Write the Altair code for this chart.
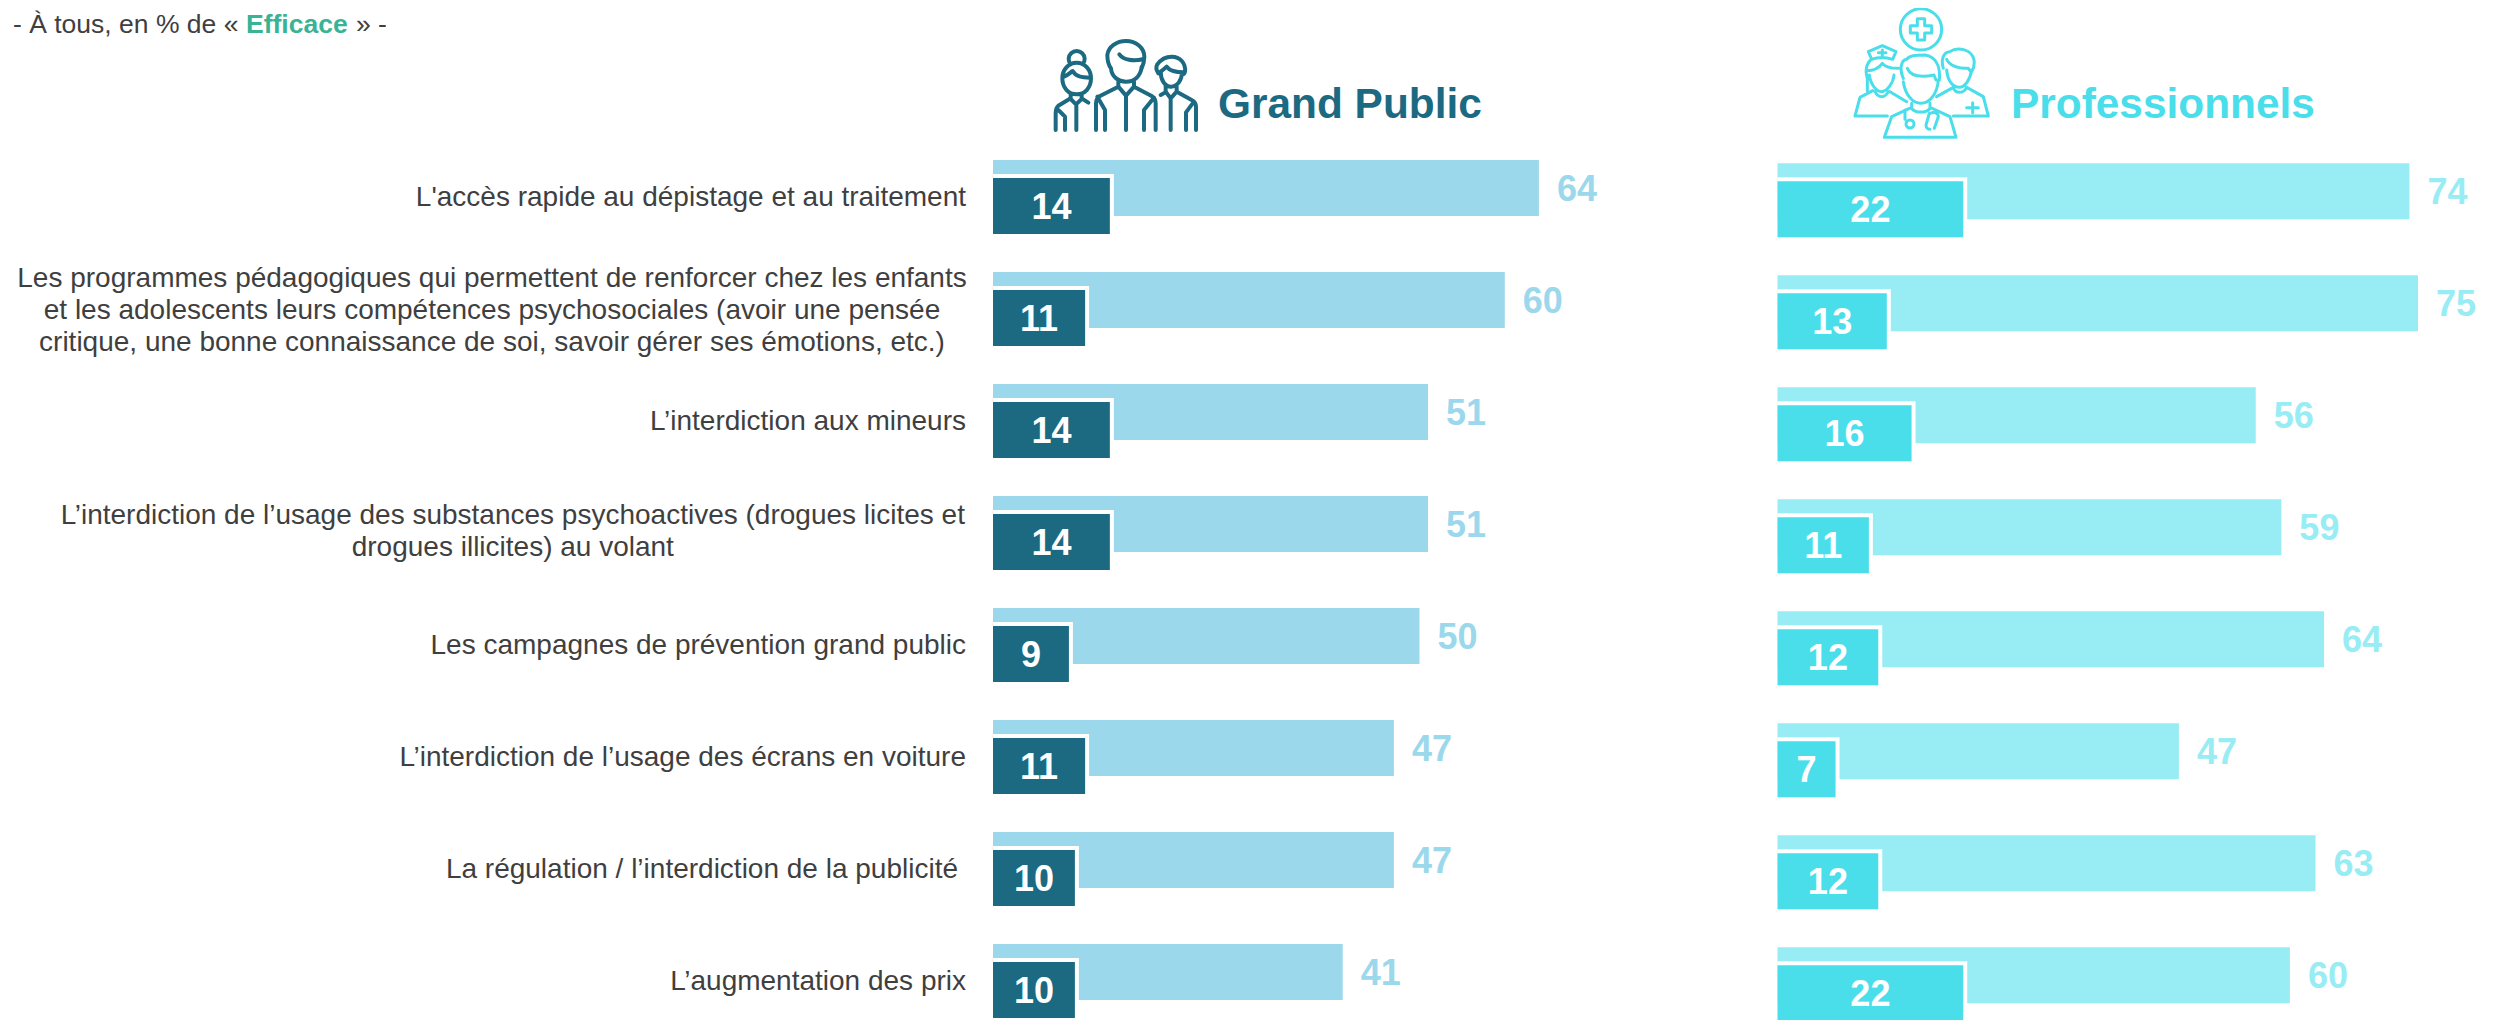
import altair as alt
import pandas as pd

FONT = "Liberation Sans"
TEXT = "#3F3F3F"

categories = [
    "L'accès rapide au dépistage et au traitement",
    "Les programmes pédagogiques qui permettent de renforcer chez les enfants\net les adolescents leurs compétences psychosociales (avoir une pensée\ncritique, une bonne connaissance de soi, savoir gérer ses émotions, etc.)",
    "L’interdiction aux mineurs",
    "L’interdiction de l’usage des substances psychoactives (drogues licites et\ndrogues illicites) au volant",
    "Les campagnes de prévention grand public",
    "L’interdiction de l’usage des écrans en voiture",
    "La régulation / l’interdiction de la publicité",
    "L’augmentation des prix",
]
gp_total = [64, 60, 51, 51, 50, 47, 47, 41]
gp_top = [13.7, 10.8, 13.7, 13.7, 8.9, 10.8, 9.6, 9.6]
pro_total = [74, 75, 56, 59, 64, 47, 63, 60]
pro_top = [21.75, 12.8, 15.7, 10.7, 11.8, 6.8, 11.8, 21.75]

GP_ICON = (
    "M62,88 A24,24 0 1 1 98,88 "
    "M80,83 C55,83 37,105 37,130 C37,158 55,178 80,178 C105,178 123,158 123,130 C123,105 105,83 80,83 Z "
    "M42,125 C55,120 62,112 68,108 C78,125 95,128 120,128 "
    "M62,175 V192 L78,208 L95,192 V178 M62,190 L25,212 C18,218 17,225 17,235 V285 M95,190 L115,203 "
    "M25,225 L45,245 V285 M79,208 V285 "
    "M183,100 C172,85 172,70 172,60 C175,35 200,18 228,18 C258,18 283,38 283,65 C283,78 280,90 275,100 "
    "M183,100 C185,125 205,140 228,140 C252,140 272,125 275,95 M208,58 C220,75 250,80 280,72 "
    "M205,140 V155 L228,182 L252,155 V140 "
    "M205,155 L150,183 C142,188 138,195 138,205 V285 M252,155 L305,183 C313,188 317,195 317,205 V285 "
    "M142,185 L165,225 V285 M312,188 L282,225 V285 M228,182 V285 "
    "M325,115 C318,105 318,95 322,88 C335,70 350,65 365,65 C390,65 408,85 405,110 C404,115 402,118 398,118 "
    "M325,115 C335,108 345,100 350,95 C360,110 380,112 402,112 "
    "M332,110 C332,135 345,155 363,155 C382,155 396,135 396,112 "
    "M347,152 V170 L362,190 L380,170 V155 M380,170 L425,195 C435,200 438,208 438,215 V285 "
    "M347,172 L332,180 M432,200 L408,232 V285 M362,190 V285"
)
PRO_ICON = (
    "M151,88 A62,62 0 1 1 275,88 A62,62 0 1 1 151,88 Z "
    "M202,56 H224 V77 H245 V99 H224 V120 H202 V99 H181 V77 H202 Z "
    "M55,155 L97,137 L138,155 L128,178 C105,170 85,170 65,178 Z M97,150 V168 M85,158 H108 "
    "M65,178 C48,190 45,215 52,235 L52,272 M58,225 C62,255 80,275 95,275 C110,275 130,250 132,225 "
    "M50,212 C75,212 90,200 97,190 C105,200 120,205 145,205 "
    "M68,272 L30,292 L15,348 H112 M75,275 C85,295 105,295 115,275 M120,275 L170,305 "
    "M160,235 C148,210 152,180 170,178 C180,165 200,165 225,165 C255,170 272,195 268,240 "
    "M160,245 C165,280 185,310 213,310 C240,310 262,280 265,240 M172,205 C180,225 200,235 252,225 L258,240 "
    "M185,310 V325 C195,340 230,340 240,325 V310 M185,322 L125,350 L103,412 H318 L300,350 L240,322 "
    "M165,330 V358 M192,372 A12,12 0 1 1 168,372 A12,12 0 1 1 192,372 Z "
    "M240,340 C252,335 265,338 265,350 L253,385 M238,340 L228,375 C228,385 235,388 240,388 "
    "M280,205 C272,180 280,155 300,155 C320,140 365,145 372,180 C375,200 368,210 365,215 "
    "M290,210 C293,245 310,262 328,262 C345,262 360,240 365,210 M290,178 C298,195 320,205 355,205 L362,215 "
    "M310,262 C315,282 340,282 350,262 L400,290 L415,348 H310 M310,262 L260,290 "
    "M368,308 V338 M350,323 H385"
)


def panel(total, top, light, dark, origin, per_unit, y_start, title, title_x, icon, icon_xy, icon_width):
    df = pd.DataFrame({"cat": categories, "total": total, "top": top, "base": [0] * len(categories)})
    xs = alt.Scale(domain=[-origin / per_unit, (2485 - origin) / per_unit])
    ys = alt.Scale(domain=categories, range=[y_start, y_start + 896], paddingInner=0, paddingOuter=0)
    X = lambda f: alt.X(f"{f}:Q", scale=xs, axis=None)
    Y = alt.Y("cat:N", scale=ys, axis=None, sort=None)
    base = alt.Chart(df)
    return alt.layer(
        base.mark_bar(size=56, color=light).encode(x=X("base"), x2="total:Q", y=Y),
        base.mark_bar(size=56, color="white", yOffset=14, x2Offset=4).encode(x=X("base"), x2="top:Q", y=Y),
        base.mark_bar(size=56, color=dark, yOffset=18).encode(x=X("base"), x2="top:Q", y=Y),
        base.mark_text(font=FONT, fontWeight="bold", fontSize=36, color=light, align="left", dx=18, dy=2).encode(
            x=X("total"), y=Y, text=alt.Text("total:Q", format=".0f")),
        base.transform_calculate(mid="datum.top / 2").mark_text(
            font=FONT, fontWeight="bold", fontSize=36, color="white", dy=20).encode(
            x=X("mid"), y=Y, text=alt.Text("top:Q", format=".0f")),
        alt.Chart(pd.DataFrame({"t": [title]})).mark_text(
            font=FONT, fontWeight="bold", fontSize=42.4, color=dark, align="left", baseline="alphabetic").encode(
            x=alt.value(title_x), y=alt.value(110), text="t:N"),
        alt.Chart(pd.DataFrame({"k": [0]})).mark_point(
            shape=icon, size=4 / 9, filled=False, opacity=1, stroke=dark, strokeWidth=icon_width,
            strokeCap="round", strokeJoin="round").encode(
            x=alt.value(icon_xy[0]), y=alt.value(icon_xy[1])),
    )


def row_labels():
    ys = alt.Scale(domain=categories, range=[124, 1020], paddingInner=0, paddingOuter=0)
    Y = alt.Y("cat:N", scale=ys, axis=None, sort=None)
    indented = categories[6]
    single = [c for c in categories if "\n" not in c and c != indented]
    layers = [
        alt.Chart(pd.DataFrame({"cat": single})).mark_text(
            font=FONT, fontSize=28, color=TEXT, align="right", dy=10).encode(
            x=alt.value(958), y=Y, text="cat:N"),
        alt.Chart(pd.DataFrame({"cat": [indented]})).mark_text(
            font=FONT, fontSize=28, color=TEXT, align="right", dy=10).encode(
            x=alt.value(950), y=Y, text="cat:N"),
    ]
    for idx, cx, dy in [(1, 484, -21), (3, 504.8, -8)]:
        layers.append(
            alt.Chart(pd.DataFrame({"cat": [categories[idx]]})).mark_text(
                font=FONT, fontSize=28, color=TEXT, align="center", dy=dy, lineBreak="\n", lineHeight=32).encode(
                x=alt.value(cx), y=Y, text="cat:N"))
    return alt.layer(*layers)


intro = [("- À tous, en % de «", 5, TEXT, "normal"), ("Efficace", 238, "#38B396", "bold"), ("» -", 348, TEXT, "normal")]
intro_layers = [
    alt.Chart(pd.DataFrame({"t": [t]})).mark_text(
        font=FONT, fontSize=26.5, fontWeight=w, color=c, align="left", baseline="alphabetic").encode(
        x=alt.value(x), y=alt.value(24.5), text="t:N")
    for t, x, c, w in intro
]

left = panel(gp_total, gp_top, "#9BD8EC", "#1B6A82", 985, 8.53, 124, "Grand Public", 1210, GP_ICON, (1042, 27), 4)
right = panel(pro_total, pro_top, "#98ECF3", "#4ADEEB", 1769.5, 8.54, 127.3, "Professionnels", 2003, PRO_ICON, (1842, -8), 3)

chart = (
    alt.layer(left, right, row_labels(), *intro_layers)
    .resolve_scale(x="independent", y="independent")
    .properties(width=2485, height=1012, padding=0, autosize=alt.AutoSizeParams(type="none"))
    .configure_view(stroke=None)
)
chart.save("out.html", embed_options={"renderer": "svg", "actions": False})
